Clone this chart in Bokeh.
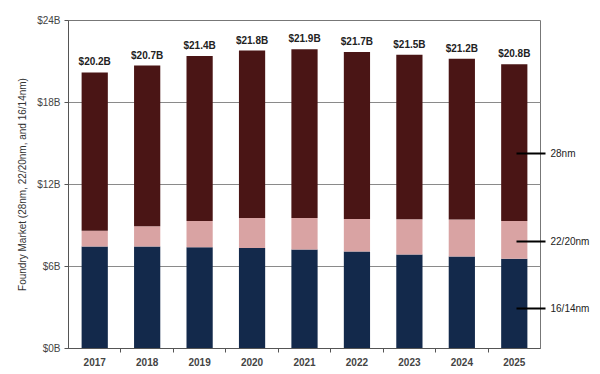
from bokeh.plotting import figure
from bokeh.models import ColumnDataSource, FixedTicker, LinearAxis, LabelSet
from bokeh.core.properties import value
from bokeh.embed import file_html
from bokeh.resources import INLINE

years = ["2017", "2018", "2019", "2020", "2021", "2022", "2023", "2024", "2025"]
nm16 = [7.47, 7.47, 7.40, 7.35, 7.25, 7.10, 6.88, 6.73, 6.57]
nm22 = [1.15, 1.47, 1.93, 2.20, 2.30, 2.37, 2.57, 2.70, 2.76]
nm28 = [11.58, 11.76, 12.07, 12.25, 12.35, 12.23, 12.05, 11.77, 11.47]
totals = [20.2, 20.7, 21.4, 21.8, 21.9, 21.7, 21.5, 21.2, 20.8]
total_labels = ["$%.1fB" % t for t in totals]
series = ["16/14nm", "22/20nm", "28nm"]
colors = ["#13294b", "#d9a3a3", "#4a1515"]
y_ticks = [0, 6, 12, 18, 24]
y_tick_labels = {0: "$0B", 6: "$6B", 12: "$12B", 18: "$18B", 24: "$24B"}
legend_y = [2.9, 7.8, 14.3]

# category positions (centres) and boundaries on a numeric scale
centers = [i + 0.5 for i in range(len(years))]
bounds = [float(i) for i in range(1, len(years))]

src = ColumnDataSource(dict(x=centers, **{"16/14nm": nm16, "22/20nm": nm22, "28nm": nm28},
                            total=[a + b + c for a, b, c in zip(nm16, nm22, nm28)],
                            label=total_labels))

p = figure(x_range=(0, len(years)), y_range=(0, 24), width=600, height=374,
           output_backend="svg", toolbar_location=None,
           min_border_left=68, min_border_right=60, min_border_top=20, min_border_bottom=26)

p.vbar_stack(series, x="x", width=0.5, color=colors, source=src, line_width=0)

labels = LabelSet(x="x", y="total", text="label", source=src, y_offset=5,
                  text_align="center", text_font_size="10px", text_font_style="bold",
                  text_color="#222222", text_font=value("Liberation Sans"))
p.add_layout(labels)

# y axis
p.yaxis.ticker = FixedTicker(ticks=y_ticks)
p.yaxis.major_label_overrides = y_tick_labels
p.yaxis.major_label_text_font = "Liberation Sans"
p.yaxis.major_label_text_font_size = "10px"
p.yaxis.major_label_text_color = "#444444"
p.yaxis.major_tick_out = 4
p.yaxis.major_tick_in = 0
p.yaxis.minor_tick_line_color = None
p.yaxis.axis_line_color = "#555555"
p.yaxis.major_tick_line_color = "#555555"
p.yaxis.major_label_standoff = 4
p.yaxis.axis_label = "Foundry Market (28nm, 22/20nm, and 16/14nm)"
p.yaxis.axis_label_text_font = "Liberation Sans"
p.yaxis.axis_label_text_font_size = "10px"
p.yaxis.axis_label_text_font_style = "normal"
p.yaxis.axis_label_text_color = "#333333"
p.yaxis.axis_label_standoff = 6

# x axis: labels at category centres, small ticks at category boundaries
p.xaxis.ticker = FixedTicker(ticks=centers, minor_ticks=bounds)
p.xaxis.major_label_overrides = {c: y for c, y in zip(centers, years)}
p.xaxis.major_label_text_font = "Liberation Sans"
p.xaxis.major_label_text_font_size = "10px"
p.xaxis.major_label_text_font_style = "bold"
p.xaxis.major_label_text_color = "#444444"
p.xaxis.major_tick_line_color = None
p.xaxis.minor_tick_line_color = "#555555"
p.xaxis.minor_tick_out = 4
p.xaxis.minor_tick_in = 0
p.xaxis.axis_line_color = "#555555"
p.xaxis.major_label_standoff = 3

p.xgrid.grid_line_color = None
p.ygrid.grid_line_color = "#8a8a8a"
p.ygrid.grid_line_width = 1
p.outline_line_color = "#777777"
p.outline_line_width = 1

# right-side series labels with leader lines
right = LinearAxis(ticker=FixedTicker(ticks=legend_y),
                   major_label_overrides={v: n for v, n in zip(legend_y, series)})
right.axis_line_color = None
right.major_tick_line_color = "#000000"
right.major_tick_line_width = 2
right.major_tick_in = 24
right.major_tick_out = 5
right.minor_tick_line_color = None
right.major_label_standoff = 5
right.major_label_text_font = "Liberation Sans"
right.major_label_text_font_size = "10px"
right.major_label_text_color = "#222222"
p.add_layout(right, "right")

open("out.html", "w").write(file_html(p, INLINE))
